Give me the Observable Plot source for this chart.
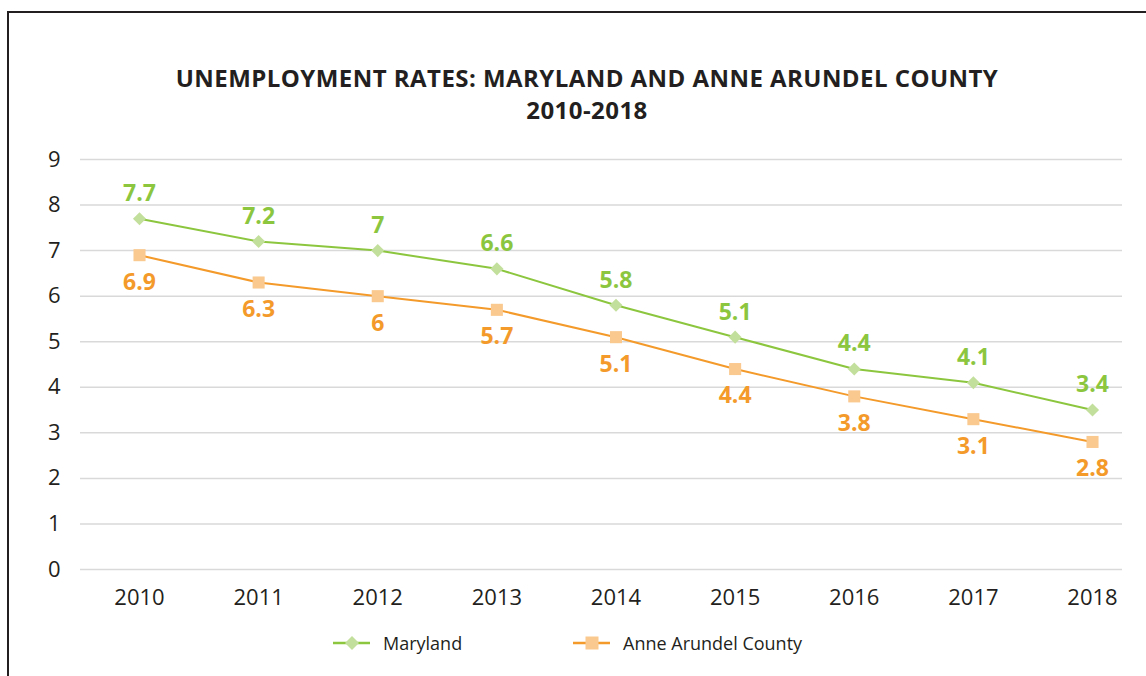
<!DOCTYPE html>
<html>
<head>
<meta charset="utf-8">
<script src="https://cdn.jsdelivr.net/npm/d3@7"></script>
<script src="https://cdn.jsdelivr.net/npm/@observablehq/plot@0.6"></script>
<style>
  html, body { margin: 0; padding: 0; background: #fff; overflow: hidden; }
  #wrap { position: relative; width: 1146px; height: 676px; font-family: "Open Sans", sans-serif; color: #231f20; }
  #bleft { position: absolute; left: 7px; top: 11px; width: 2px; height: 665px; background: #231f20; }
  #btop { position: absolute; left: 7px; top: 11px; width: 1139px; height: 2px; background: #231f20; }
  #title { position: absolute; left: 0; width: 1174px; top: 62px; text-align: center; font-weight: 700; font-size: 24px; letter-spacing: 0.45px; line-height: 32px; }
  #chart { position: absolute; left: 0; top: 140px; }
  #legend { position: absolute; top: 628px; left: 0; width: 1146px; height: 30px; font-size: 18px; }
  .item { position: absolute; top: 0; display: flex; align-items: center; height: 30px; }
  .item svg { margin-right: 12px; }
</style>
</head>
<body>
<div id="wrap">
  <div id="bleft"></div>
  <div id="btop"></div>
  <div id="title">UNEMPLOYMENT RATES: MARYLAND AND ANNE ARUNDEL COUNTY<br>2010-2018</div>
  <div id="chart"></div>
  <div id="legend"></div>
</div>
<script>
const years = [2010, 2011, 2012, 2013, 2014, 2015, 2016, 2017, 2018];
const marylandValues = [7.7, 7.2, 7.0, 6.6, 5.8, 5.1, 4.4, 4.1, 3.5];
const marylandLabels = ["7.7", "7.2", "7", "6.6", "5.8", "5.1", "4.4", "4.1", "3.4"];
const anneArundelValues = [6.9, 6.3, 6.0, 5.7, 5.1, 4.4, 3.8, 3.3, 2.8];
const anneArundelLabels = ["6.9", "6.3", "6", "5.7", "5.1", "4.4", "3.8", "3.1", "2.8"];
const yTicks = [0, 1, 2, 3, 4, 5, 6, 7, 8, 9];
const seriesNames = ["Maryland", "Anne Arundel County"];

const green = "#8cc63f", greenFill = "#c3df9c";
const orange = "#f39a2b", orangeFill = "#fac98f";

const md = years.map((y, i) => ({year: y, value: marylandValues[i], label: marylandLabels[i]}));
const aa = years.map((y, i) => ({year: y, value: anneArundelValues[i], label: anneArundelLabels[i]}));

const chart = Plot.plot({
  width: 1146,
  height: 470,
  marginTop: 19,
  marginBottom: 41,
  marginLeft: 80,
  marginRight: 24,
  style: {fontFamily: "Open Sans, sans-serif", background: "transparent", overflow: "visible"},
  x: {domain: [2009.5047, 2018.2518]},
  y: {domain: [0, 9]},
  marks: [
    Plot.ruleY(yTicks, {stroke: "#d9d9d9", strokeWidth: 1.5}),
    Plot.axisX({ticks: years, tickFormat: d => String(d), tickSize: 0, tickPadding: 20, fontSize: 22, fill: "#231f20", label: null}),
    Plot.axisY({ticks: yTicks, tickSize: 0, tickPadding: 20, fontSize: 22, fill: "#231f20", label: null}),
    Plot.line(md, {x: "year", y: "value", stroke: green, strokeWidth: 2}),
    Plot.line(aa, {x: "year", y: "value", stroke: orange, strokeWidth: 2}),
    Plot.dot(md, {x: "year", y: "value", symbol: "diamond2", r: 5.9, fill: greenFill, stroke: "none"}),
    Plot.dot(aa, {x: "year", y: "value", symbol: "square", r: 6.8, fill: orangeFill, stroke: "none"}),
    Plot.text(md, {x: "year", y: "value", text: "label", dy: -25, fill: green, fontWeight: "bold", fontSize: 23}),
    Plot.text(aa, {x: "year", y: "value", text: "label", dy: 27, fill: orange, fontWeight: "bold", fontSize: 23})
  ]
});
document.getElementById("chart").appendChild(chart);

// legend
const legend = document.getElementById("legend");
const legendItems = [
  {name: seriesNames[0], stroke: green, fill: greenFill, left: 333, shape: "diamond"},
  {name: seriesNames[1], stroke: orange, fill: orangeFill, left: 573, shape: "square"}
];
for (const it of legendItems) {
  const div = document.createElement("div");
  div.className = "item";
  div.style.left = it.left + "px";
  const ns = "http://www.w3.org/2000/svg";
  const s = document.createElementNS(ns, "svg");
  s.setAttribute("width", 38); s.setAttribute("height", 30);
  const ln = document.createElementNS(ns, "line");
  ln.setAttribute("x1", 0); ln.setAttribute("x2", 37); ln.setAttribute("y1", 15); ln.setAttribute("y2", 15);
  ln.setAttribute("stroke", it.stroke); ln.setAttribute("stroke-width", 2.5);
  s.appendChild(ln);
  const p = document.createElementNS(ns, "path");
  if (it.shape === "diamond") p.setAttribute("d", "M19,8L26,15L19,22L12,15Z");
  else p.setAttribute("d", "M12.5,8.5H25.5V21.5H12.5Z");
  p.setAttribute("fill", it.fill);
  s.appendChild(p);
  div.appendChild(s);
  const t = document.createElement("span");
  t.textContent = it.name;
  div.appendChild(t);
  legend.appendChild(div);
}
</script>
</body>
</html>
